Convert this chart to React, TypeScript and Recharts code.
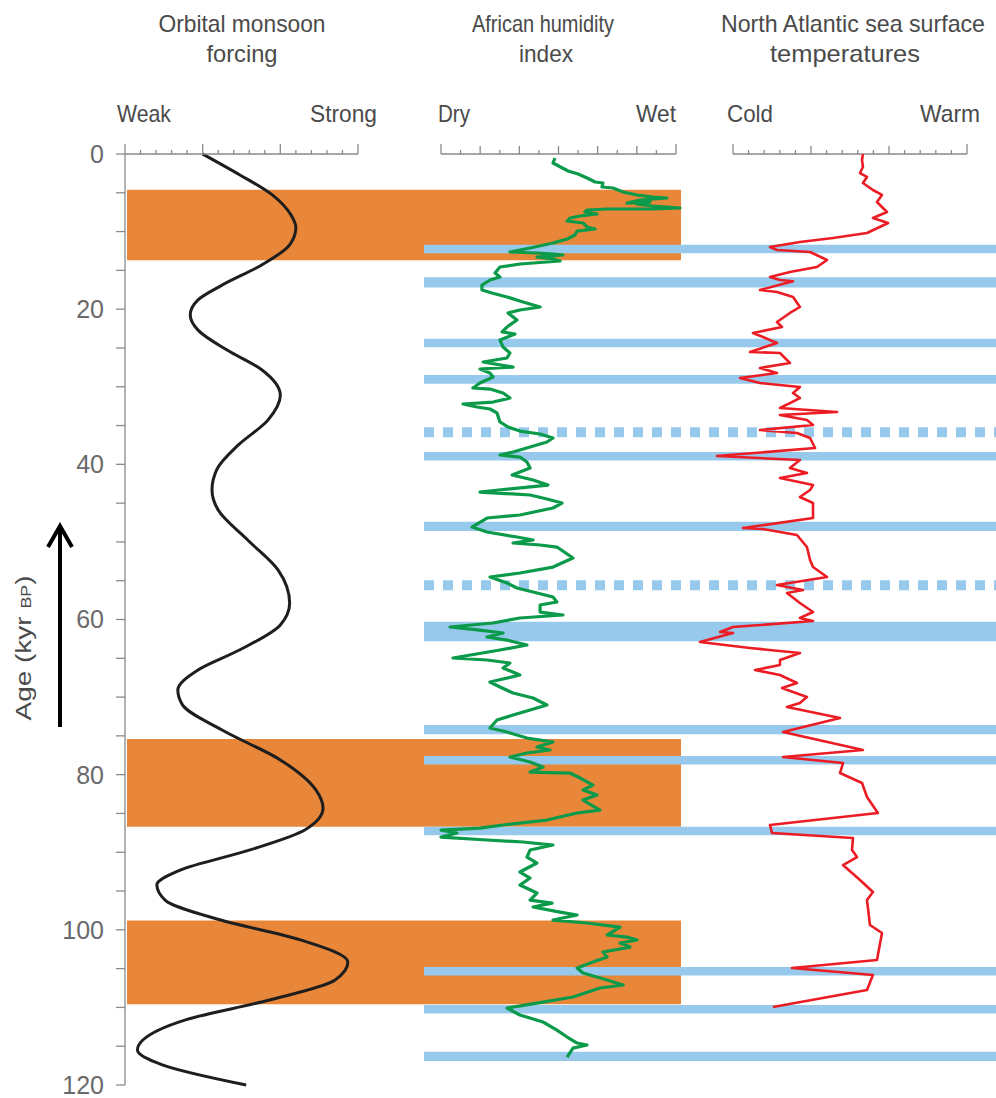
import { ComposedChart, Line, Area, XAxis, YAxis } from 'recharts'

const W = 996
const H = 1098
const TOP = 154
const BOTTOM = 13
const AXIS_H = 20

const ORANGE = '#E8873A'
const BLUE = '#96C9EB'
const GREEN = '#0A9A4A'
const RED = '#EC1C24'
const BLACK = '#1E1E1E'
const AXIS = '#8a8a8a'
const FONT = '"Liberation Sans", Arial, sans-serif'

const ageTicks = [0, 5, 10, 15, 20, 25, 30, 35, 40, 45, 50, 55, 60, 65, 70, 75, 80, 85, 90, 95, 100, 105, 110, 115, 120]
const orbitalTicks = [0, 1, 2, 3, 4, 5, 6, 7, 8, 9, 10, 11, 12, 13, 14, 15]
const humidityTicks = [0, 1, 2, 3, 4, 5, 6, 7, 8, 9, 10, 11, 12]
const sstTicks = [0, 1, 2, 3, 4, 5, 6, 7, 8, 9, 10, 11, 12, 13, 14, 15]

// [age kyr BP, index]
const orbital = [
  [0, 5.0], [2.7, 7.4], [5.3, 9.5], [7.9, 10.7], [9.5, 11.0], [11.7, 10.6], [14.3, 8.8], [16.9, 6.25],
  [18.8, 4.7], [20.75, 4.2], [22.7, 4.7], [25.3, 6.6], [27.8, 8.8], [31.1, 10.0], [34.3, 9.2], [37.5, 7.3],
  [40.7, 5.9], [43.3, 5.6], [45.9, 6.0], [49.75, 7.9], [53.6, 9.85], [57.9, 10.6], [60.7, 10.0], [63.9, 7.4],
  [66.5, 4.7], [69.1, 3.4], [71.0, 3.7], [74.25, 6.25], [78.1, 10.0], [82.0, 12.3], [84.3, 12.75], [87.1, 11.6],
  [89.7, 8.05], [92.3, 3.55], [94.2, 2.05], [96.2, 2.6], [98.7, 6.1], [101.3, 11.3], [104.15, 14.35], [106.5, 13.5],
  [109.05, 9.3], [111.6, 3.9], [114.2, 1.15], [115.5, 0.8], [117.4, 2.4], [120, 7.8],
]

const humidity = [
  [0.52, 5.82], [1.16, 5.72], [2.19, 6.49], [2.58, 7.0], [3.09, 7.46], [3.61, 7.87], [3.74, 8.27], [4.25, 8.22],
  [4.38, 8.78], [4.9, 9.3], [5.28, 10.01], [5.54, 10.83], [5.67, 11.54], [5.93, 10.16], [6.32, 9.5], [6.19, 10.67],
  [6.45, 10.01], [6.7, 10.83], [6.96, 12.21], [7.09, 10.83], [7.09, 8.48], [7.22, 7.46], [7.48, 7.35], [7.73, 7.97],
  [7.99, 7.1], [8.25, 6.59], [8.64, 6.44], [8.89, 7.25], [9.41, 7.46], [9.67, 7.87], [9.93, 6.95], [10.44, 6.84],
  [10.96, 6.44], [11.47, 5.72], [12.12, 4.55], [12.63, 3.52], [12.76, 4.9], [12.89, 5.72], [13.02, 6.23], [13.28, 4.9],
  [13.53, 5.72], [13.79, 6.08], [14.18, 4.03], [14.57, 3.01], [15.34, 2.76], [15.85, 3.01], [16.24, 2.5], [16.89, 2.09],
  [17.53, 2.09], [17.92, 2.6], [18.43, 3.37], [19.08, 4.19], [19.72, 5.06], [20.11, 4.03], [20.49, 3.42], [21.4, 3.88],
  [22.3, 3.37], [22.94, 3.12], [23.2, 3.78], [23.98, 3.01], [24.88, 3.17], [25.65, 3.52], [26.3, 3.37], [26.81, 2.15],
  [27.46, 3.68], [27.71, 1.99], [28.23, 2.5], [28.74, 2.66], [29.52, 1.99], [30.16, 1.63], [30.3, 2.5], [30.81, 3.17],
  [31.45, 3.52], [31.97, 2.66], [32.22, 1.12], [32.61, 1.84], [32.87, 2.5], [33.38, 2.86], [34.54, 3.01], [35.19, 3.42],
  [35.71, 4.03], [36.09, 5.06], [36.61, 5.72], [37.12, 5.41], [37.77, 4.55], [38.41, 3.68], [38.8, 3.01], [39.06, 4.03],
  [39.7, 4.39], [40.47, 4.55], [41.38, 3.63], [42.02, 4.7], [42.67, 5.46], [43.57, 1.99], [43.95, 4.55], [44.47, 5.41],
  [44.99, 6.18], [45.63, 5.72], [46.53, 4.03], [46.92, 2.35], [48.08, 1.58], [48.72, 2.35], [49.37, 3.88], [49.75, 4.7],
  [50.14, 3.68], [50.4, 5.06], [50.66, 5.92], [52.08, 6.74], [53.24, 5.72], [54.01, 4.03], [54.52, 2.5], [55.3, 3.37],
  [55.94, 3.88], [56.46, 4.7], [57.1, 5.72], [57.75, 5.92], [58.13, 5.06], [59.04, 5.06], [59.42, 6.23], [59.81, 4.03],
  [60.45, 2.66], [60.97, 0.46], [61.36, 1.99], [61.74, 3.17], [62.26, 2.35], [62.65, 3.37], [63.29, 4.39], [63.93, 3.01],
  [64.96, 0.61], [65.22, 2.35], [65.61, 3.52], [66.25, 3.17], [67.16, 4.03], [68.06, 2.5], [68.7, 3.01], [69.48, 3.68],
  [70.12, 4.7], [71.02, 5.41], [71.67, 4.55], [72.31, 3.68], [72.96, 2.86], [73.99, 2.5], [74.5, 3.37], [75.28, 4.39],
  [75.79, 5.72], [76.44, 4.9], [76.82, 5.57], [77.21, 4.39], [77.73, 3.52], [78.37, 4.55], [79.02, 5.21], [79.66, 4.55],
  [79.79, 6.59], [80.43, 7.1], [81.34, 7.76], [81.98, 7.25], [82.62, 7.97], [83.27, 7.25], [84.56, 8.12], [84.94, 6.95],
  [85.85, 5.41], [86.49, 3.17], [86.88, 1.99], [87.14, 0], [87.52, 0.82], [88.04, 0], [88.42, 2.35], [88.68, 4.19],
  [89.07, 5.72], [89.71, 4.55], [90.62, 4.39], [91.39, 4.9], [92.55, 4.03], [93.32, 4.55], [94.23, 4.03], [95.26, 4.9],
  [96.16, 4.55], [96.55, 5.67], [97.06, 4.7], [97.71, 6.08], [98.09, 6.95], [98.74, 5.72], [99.12, 7.46], [99.64, 9.14],
  [100.67, 8.48], [100.93, 9.5], [101.31, 10.01], [101.7, 9.14], [102.22, 9.65], [102.86, 8.27], [103.51, 8.48], [104.15, 7.76],
  [104.92, 6.95], [105.57, 7.25], [106.47, 8.48], [107.11, 9.3], [107.5, 8.12], [108.66, 6.74], [109.44, 4.9], [110.08, 3.37],
  [110.98, 4.03], [111.88, 5.21], [112.92, 5.92], [113.82, 6.44], [114.59, 6.95], [114.85, 7.46], [115.24, 6.74], [116.4, 6.44],
]

const sst = [
  [0, 8.33], [0.77, 8.27], [1.68, 8.33], [2.45, 8.14], [2.96, 8.59], [3.74, 8.33], [4.64, 8.97], [5.28, 9.55],
  [6.19, 9.23], [7.48, 9.87], [8.25, 8.97], [8.89, 9.94], [10.18, 8.59], [10.83, 6.41], [11.34, 4.29], [11.99, 2.37],
  [12.37, 2.82], [12.63, 4.94], [13.66, 6.03], [14.57, 5.38], [15.21, 3.65], [15.85, 2.37], [16.24, 3.01], [16.4, 3.85],
  [17.53, 1.73], [17.79, 2.82], [18.43, 3.85], [19.72, 4.29], [20.49, 3.65], [21.66, 2.82], [22.3, 3.14], [23.07, 1.28],
  [23.59, 1.92], [24.36, 2.82], [25.52, 1.09], [25.65, 3.01], [26.94, 3.65], [27.58, 1.73], [28.23, 2.82], [28.87, 0.45],
  [29.52, 1.73], [30.03, 4.29], [30.81, 3.85], [31.45, 4.29], [32.1, 3.65], [32.74, 3.01], [33.26, 6.67], [33.64, 3.01],
  [34.29, 4.74], [34.93, 5.13], [35.58, 1.73], [35.96, 4.1], [36.61, 4.94], [37.9, 5.26], [38.93, -1.03], [39.44, 4.29],
  [40.47, 3.65], [41.12, 4.74], [41.76, 3.01], [42.67, 5.13], [43.31, 4.94], [44.21, 4.29], [44.99, 5.13], [46.92, 5.13],
  [48.21, 0.64], [48.34, 1.92], [49.11, 4.1], [50.66, 4.74], [52.33, 4.94], [53.24, 5.13], [54.52, 6.03], [55.56, 2.82],
  [56.2, 4.49], [56.59, 3.46], [57.88, 4.29], [59.04, 5.13], [59.81, 4.29], [60.2, 5.13], [60.97, 0], [61.61, -0.83],
  [61.74, 0], [62.9, -2.12], [63.67, 1.09], [64.32, 4.29], [65.22, 3.01], [65.87, 3.01], [66.51, 1.41], [67.16, 3.01],
  [68.19, 4.1], [68.83, 3.14], [69.99, 4.74], [70.77, 4.29], [71.28, 3.46], [72.7, 6.86], [74.5, 3.21], [76.82, 8.33],
  [77.73, 3.21], [78.5, 7.05], [79.79, 6.86], [81.08, 8.27], [82.88, 8.59], [84.94, 9.29], [86.49, 2.37], [87.52, 2.5],
  [88.17, 7.69], [89.71, 7.63], [90.62, 7.95], [91.65, 7.05], [93.58, 8.14], [95.13, 8.97], [96.16, 8.59], [99.38, 8.78],
  [100.41, 9.55], [103.89, 9.23], [104.92, 3.78], [105.83, 8.97], [107.76, 8.59], [109.95, 2.56],
]

// humid periods (orange) and cold events (blue), in kyr BP
const orangeBands = [[4.6, 13.7], [75.4, 86.7], [98.8, 109.6]]
const blueBands = [
  [11.7, 12.8], [15.9, 17.2], [23.8, 24.9], [28.5, 29.6], [38.4, 39.5], [47.4, 48.6], [60.3, 62.8],
  [73.6, 74.8], [77.6, 78.7], [86.7, 87.8], [104.8, 105.9], [109.7, 110.8], [115.7, 116.9],
]
const dashedBands = [35.85, 55.6]

const toRows = (pts: number[][]) => pts.map(([age, v]) => ({ age, v }))
// each band becomes a filled run across the panel, separated by a gap row
const bandRows = (bands: number[][]) =>
  bands.flatMap(([a, b]) => [{ age: a, on: 1 }, { age: b, on: 1 }, { age: b, on: null }])

function tickMarks(majors: number[], mids: number[]) {
  return (props: any) => {
    const { x, y, payload } = props
    const v = payload.value
    const len = majors.includes(v) ? 10 : mids.includes(v) ? 8 : 4
    return <line x1={x} x2={x} y1={y} y2={y - len} stroke={AXIS} strokeWidth={1.3} />
  }
}

const layer: React.CSSProperties = { position: 'absolute', left: 0, top: 0, pointerEvents: 'none' }

function BandChart({ left, right, children }: { left: number; right: number; children: any }) {
  return (
    <div style={layer}>
      <ComposedChart layout="vertical" width={W} height={H} margin={{ top: TOP, right, bottom: BOTTOM, left }}>
        <XAxis type="number" domain={[0, 1]} hide />
        <YAxis type="number" dataKey="age" domain={[0, 120]} hide />
        {children}
      </ComposedChart>
    </div>
  )
}

function Frame({ left, right, max, ticks, majors, mids }: any) {
  return (
    <div style={layer}>
      <ComposedChart layout="vertical" width={W} height={H} margin={{ top: TOP - AXIS_H, right, bottom: BOTTOM, left }}>
        <XAxis type="number" orientation="top" domain={[0, max]} ticks={ticks} interval={0} height={AXIS_H}
          tickSize={0} tickMargin={0} tickLine={false} axisLine={{ stroke: AXIS, strokeWidth: 1.3 }}
          tick={tickMarks(majors, mids)} allowDataOverflow />
        <YAxis type="number" domain={[0, 120]} hide allowDataOverflow />
      </ComposedChart>
    </div>
  )
}

function Trace({ data, left, right, domain, color, width }: any) {
  return (
    <div style={layer}>
      <ComposedChart layout="vertical" width={W} height={H} data={toRows(data)} margin={{ top: TOP, right, bottom: BOTTOM, left }}>
        <XAxis type="number" domain={domain} hide />
        <YAxis type="number" dataKey="age" domain={[0, 120]} hide />
        <Line dataKey="v" type="linear" stroke={color} strokeWidth={width} dot={false} strokeLinejoin="round" isAnimationActive={false} />
      </ComposedChart>
    </div>
  )
}

const head = { fontSize: 24, fill: '#4a4a4a', fontFamily: FONT }

export default function App() {
  return (
    <div style={{ position: 'absolute', left: 0, top: 0, width: W, height: H, background: '#fff', fontFamily: FONT }}>
      <BandChart left={127} right={W - 681}>
        <Area data={bandRows(orangeBands)} dataKey="on" type="linear" fill={ORANGE} fillOpacity={1} stroke="none"
          activeDot={false} isAnimationActive={false} />
      </BandChart>
      <BandChart left={424} right={0}>
        <Area data={bandRows(blueBands)} dataKey="on" type="linear" fill={BLUE} fillOpacity={1} stroke="none"
          activeDot={false} isAnimationActive={false} />
        {dashedBands.map((a, i) => (
          <Line key={i} data={[{ age: a, on: 0 }, { age: a, on: 1 }]} dataKey="on" type="linear" stroke={BLUE}
            strokeWidth={10} strokeDasharray="10 9" dot={false} activeDot={false} isAnimationActive={false} />
        ))}
      </BandChart>

      <div style={layer}>
        <ComposedChart layout="vertical" width={W} height={H} data={toRows(orbital)}
          margin={{ top: TOP - AXIS_H, right: W - 358, bottom: BOTTOM, left: 65 }}>
          <XAxis type="number" orientation="top" domain={[0, 15]} ticks={orbitalTicks} interval={0} height={AXIS_H}
            tickSize={0} tickMargin={0} tickLine={false} axisLine={{ stroke: AXIS, strokeWidth: 1.3 }}
            tick={tickMarks([0, 5, 10, 15], [])} />
          <YAxis type="number" dataKey="age" domain={[0, 120]} ticks={ageTicks} interval={0} width={60}
            tickSize={9} tickMargin={12} stroke={AXIS} strokeWidth={1.3}
            tickFormatter={(v: number) => (v % 20 === 0 ? String(v) : '')}
            tick={{ fill: '#6a6a6a', fontSize: 25, fontFamily: FONT }} />
          <Line dataKey="v" type="monotoneY" stroke={BLACK} strokeWidth={3} dot={false} isAnimationActive={false} />
        </ComposedChart>
      </div>

      <Frame left={441} right={W - 676} max={12} ticks={humidityTicks} majors={[0, 12]} mids={[2, 4, 6, 8, 10]} />
      <Frame left={733} right={W - 967} max={15} ticks={sstTicks} majors={[0, 15]} mids={[5, 10]} />

      <Trace data={humidity} left={441 - 235 / 12} right={W - 676 - 235 / 12} domain={[-1, 13]} color={GREEN} width={3.2} />
      <Trace data={sst} left={733 - 3 * 15.6} right={W - 967} domain={[-3, 15]} color={RED} width={2.6} />

      <svg width={W} height={H} style={layer}>
        <text x={242} y={32} textAnchor="middle" textLength={167} lengthAdjust="spacingAndGlyphs" {...head}>Orbital monsoon</text>
        <text x={242} y={62} textAnchor="middle" textLength={71} lengthAdjust="spacingAndGlyphs" {...head}>forcing</text>
        <text x={117} y={122} textLength={54} lengthAdjust="spacingAndGlyphs" {...head}>Weak</text>
        <text x={310} y={122} textLength={67} lengthAdjust="spacingAndGlyphs" {...head}>Strong</text>

        <text x={543} y={32} textAnchor="middle" textLength={142} lengthAdjust="spacingAndGlyphs" {...head}>African humidity</text>
        <text x={546} y={62} textAnchor="middle" textLength={54} lengthAdjust="spacingAndGlyphs" {...head}>index</text>
        <text x={438} y={122} textLength={32} lengthAdjust="spacingAndGlyphs" {...head}>Dry</text>
        <text x={636} y={122} textLength={40} lengthAdjust="spacingAndGlyphs" {...head}>Wet</text>

        <text x={853} y={32} textAnchor="middle" textLength={264} lengthAdjust="spacingAndGlyphs" {...head}>North Atlantic sea surface</text>
        <text x={845} y={62} textAnchor="middle" textLength={150} lengthAdjust="spacingAndGlyphs" {...head}>temperatures</text>
        <text x={727} y={122} textLength={46} lengthAdjust="spacingAndGlyphs" {...head}>Cold</text>
        <text x={920} y={122} textLength={60} lengthAdjust="spacingAndGlyphs" {...head}>Warm</text>

        <text transform="translate(31,648) rotate(-90)" textAnchor="middle" fontSize={22} fill="#4a4a4a" fontFamily={FONT}
          textLength={145} lengthAdjust="spacingAndGlyphs">
          Age (kyr <tspan fontSize={14}>BP</tspan>)
        </text>
        <line x1={60} y1={727} x2={60} y2={528} stroke="#000" strokeWidth={4} />
        <polyline points="48,547 60,526 72,547" fill="none" stroke="#000" strokeWidth={4} />
      </svg>
    </div>
  )
}
